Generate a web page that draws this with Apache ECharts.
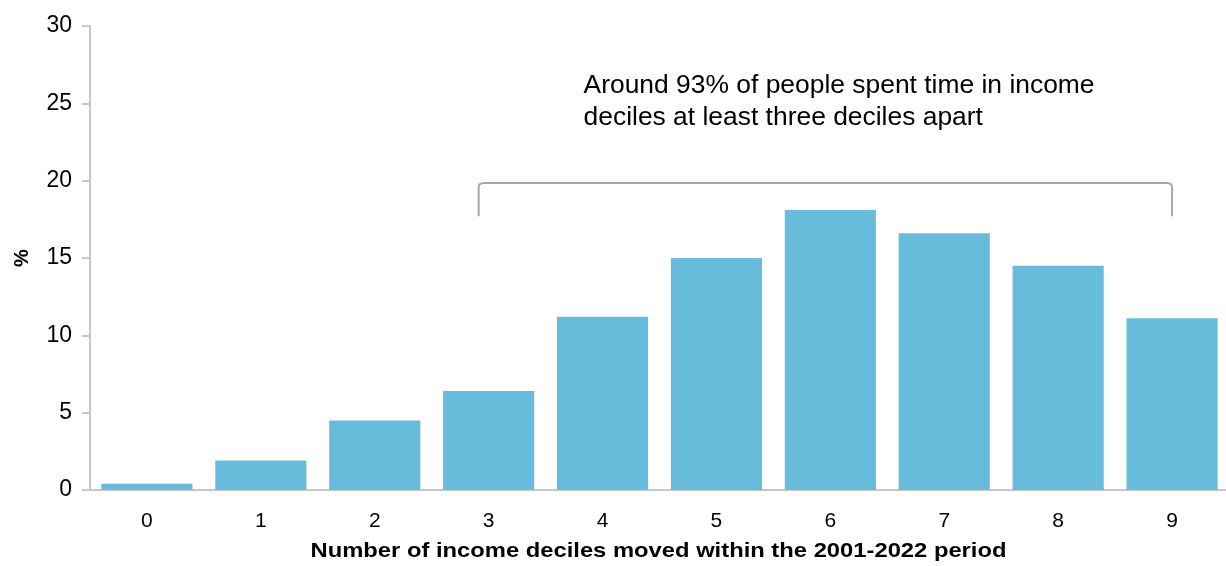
<!DOCTYPE html>
<html>
<head>
<meta charset="utf-8">
<script src="https://cdn.jsdelivr.net/npm/echarts@6/dist/echarts.min.js"></script>
<style>
  html, body { margin: 0; padding: 0; background: #fff; overflow: hidden; }
  #chart { width: 1226px; height: 566px; }
</style>
</head>
<body>
<div id="chart"></div>
<script>
// Number of income deciles moved, and share of people (%)
const deciles = ['0', '1', '2', '3', '4', '5', '6', '7', '8', '9'];
const shares = [0.4, 1.9, 4.5, 6.4, 11.2, 15.0, 18.1, 16.6, 14.5, 11.1];
const yTicks = { min: 0, max: 30, interval: 5 };
const xTitle = 'Number of income deciles moved within the 2001-2022 period';
const noteLines = [
  'Around 93% of people spent time in income',
  'deciles at least three deciles apart'
];
// bracket spans from decile 3 to decile 9, drawn just under the 20% level
const bracketFrom = 3, bracketTo = 9, bracketTop = 19.85, bracketFoot = 17.7;

const FONT = '"Liberation Sans", Arial, sans-serif';
const GRID = { left: 90, top: 26, width: 1139, height: 464 };

// horizontal stretch so a text line fills a given width
const ctx = document.createElement('canvas').getContext('2d');
function stretchTo(text, font, width) {
  ctx.font = font;
  return width / ctx.measureText(text).width;
}

const chart = echarts.init(document.getElementById('chart'));

chart.setOption({
  animation: false,
  textStyle: { fontFamily: FONT },
  grid: Object.assign({ outerBoundsMode: 'none', containLabel: false }, GRID),
  xAxis: {
    type: 'category',
    data: deciles,
    axisLine: { lineStyle: { color: '#c8c8c8', width: 2 } },
    axisTick: { show: false },
    axisLabel: { fontFamily: FONT, fontSize: 21, color: '#000', margin: 21 }
  },
  yAxis: {
    type: 'value',
    min: yTicks.min, max: yTicks.max, interval: yTicks.interval,
    name: '%',
    nameLocation: 'middle',
    nameGap: 58,
    nameMoveOverlap: false,
    nameRotate: 90,
    nameTextStyle: { fontFamily: FONT, fontWeight: 'bold', fontSize: 20, color: '#000' },
    axisLine: { show: true, lineStyle: { color: '#c8c8c8', width: 2 } },
    axisTick: { show: true, length: 8, lineStyle: { color: '#c8c8c8', width: 2 } },
    splitLine: { show: false },
    axisLabel: { fontFamily: FONT, fontSize: 23, color: '#000', margin: 18 }
  },
  series: [{
    type: 'bar',
    data: shares,
    barCategoryGap: '20%',
    itemStyle: { color: '#67bbdb' }
  }]
});

// Bracket over deciles 3..9, placed from data coordinates
const p0 = chart.convertToPixel({ gridIndex: 0 }, [bracketFrom, bracketTop]);
const p1 = chart.convertToPixel({ gridIndex: 0 }, [bracketTo, bracketFoot]);
const xL = p0[0] - 10, xR = p1[0], yT = p0[1], yB = p1[1];
const bracketPts = [
  [xL, yB], [xL, yT + 4], [xL + 1, yT + 1.2], [xL + 4, yT],
  [xR - 4, yT], [xR - 1, yT + 1.2], [xR, yT + 4], [xR, yB]
];

// note lines sit above the bracket, starting a little left of decile 4
const line1 = chart.convertToPixel({ gridIndex: 0 }, [4, 26.1]);
const line2 = chart.convertToPixel({ gridIndex: 0 }, [4, 24.03]);
const noteX = line1[0] - 19;
const noteFont = '25px ' + FONT;
const noteScale = stretchTo(noteLines[0], noteFont, 511);
const noteStyle = { font: noteFont, fill: '#000', verticalAlign: 'middle' };

const titleFont = 'bold 21px ' + FONT;
const titleScale = stretchTo(xTitle, titleFont, 696);

chart.setOption({
  graphic: [
    {
      type: 'polyline',
      shape: { points: bracketPts },
      style: { fill: null, stroke: '#a6a6a6', lineWidth: 2 }
    },
    {
      type: 'text', x: noteX, y: line1[1], scaleX: noteScale,
      style: Object.assign({ text: noteLines[0] }, noteStyle)
    },
    {
      type: 'text', x: noteX, y: line2[1], scaleX: noteScale,
      style: Object.assign({ text: noteLines[1] }, noteStyle)
    },
    {
      type: 'text',
      x: GRID.left + GRID.width / 2 - 1,
      y: 551,
      scaleX: titleScale,
      style: {
        text: xTitle,
        font: titleFont,
        fill: '#000',
        align: 'center',
        verticalAlign: 'middle'
      }
    }
  ]
});
</script>
</body>
</html>
